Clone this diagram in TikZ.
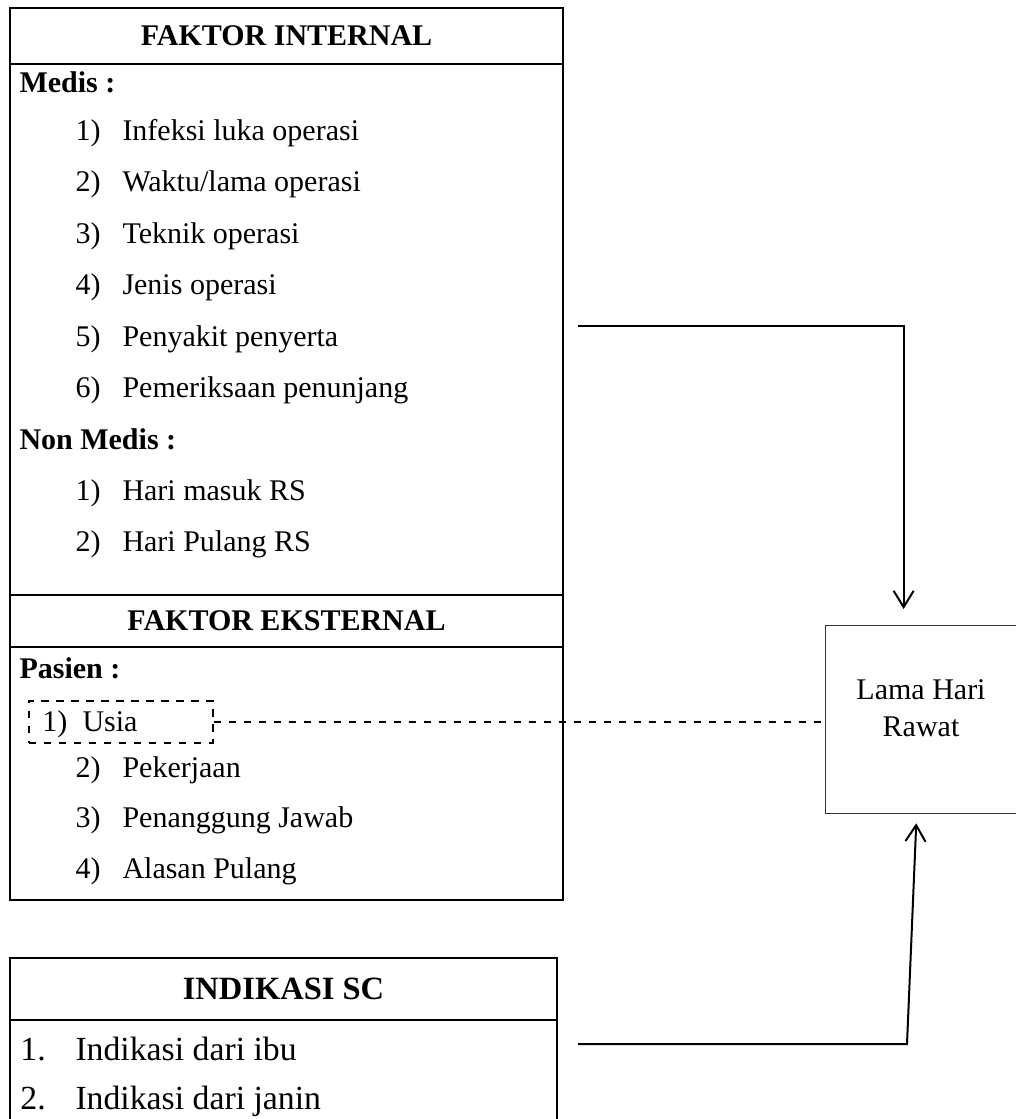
\documentclass[tikz,border=0pt]{standalone}
\usepackage{fontspec}
\setmainfont{Liberation Serif}
\usetikzlibrary{positioning,arrows.meta}

\begin{document}
\begin{tikzpicture}[
			x=0.4pt,y=-0.4pt,
			box/.style={draw,line width=1pt,inner sep=0pt,outer sep=0pt,anchor=north west,minimum width=553*0.4pt},
			txt/.style={anchor=base west,inner sep=0pt,font=\fontsize{12}{14}\selectfont},
			conn/.style={line width=0.8pt,-{Straight Barb[length=6.5pt,width=8pt]}},
			]
			\useasboundingbox (0,0) rectangle (1015,1119);
			% faktor internal / eksternal
			\node [box,minimum height=56*0.4pt,font=\fontsize{12}{14}\selectfont\bfseries] (inthead) at (10,8) {FAKTOR INTERNAL};
			\node [box,minimum height=531*0.4pt,below=0pt of inthead.south west,anchor=north west] (intbody) {};
			\node [box,minimum height=52*0.4pt,below=0pt of intbody.south west,anchor=north west,font=\fontsize{12}{14}\selectfont\bfseries] (exthead) {FAKTOR EKSTERNAL};
			\node [box,minimum height=253*0.4pt,below=0pt of exthead.south west,anchor=north west] (extbody) {};
			\node [txt,font=\fontsize{12}{14}\selectfont\bfseries] (medis) at (19,93) {Medis :};
			\foreach \t [count=\i] in {Infeksi luka operasi,{Waktu/lama operasi},Teknik operasi,Jenis operasi,Penyakit penyerta,Pemeriksaan penunjang}
			{
				\node [txt] (mnum\i) at (75,{140+(\i-1)*51.5}) {\i)};
				\node [txt] (med\i) at (122,{140+(\i-1)*51.5}) {\t};
			}
			\node [txt,font=\fontsize{12}{14}\selectfont\bfseries] (nonmedis) at (19,449) {Non Medis :};
			\foreach \t [count=\i] in {Hari masuk RS,Hari Pulang RS}
			{
				\node [txt] (nnum\i) at (75,{500+(\i-1)*51.5}) {\i)};
				\node [txt] (nonmed\i) at (122,{500+(\i-1)*51.5}) {\t};
			}
			\node [txt,font=\fontsize{12}{14}\selectfont\bfseries] (pasien) at (19,678) {Pasien :};
			\node [draw,dashed,line width=0.6pt,anchor=north west,inner sep=0pt,minimum width=184*0.4pt,minimum height=42*0.4pt] (usiabox) at (28,700) {};
			\node [txt] (pnum1) at (42,731) {1)};
			\node [txt] (pas1) at (82,731) {Usia};
			\foreach \t [count=\i from 2] in {Pekerjaan,Penanggung Jawab,Alasan Pulang}
			{
				\node [txt] (pnum\i) at (75,{777+(\i-2)*50.5}) {\i)};
				\node [txt] (pas\i) at (122,{777+(\i-2)*50.5}) {\t};
			}
			% indikasi sc
			\node [box,minimum width=547*0.4pt,minimum height=62*0.4pt,font=\fontsize{13}{15}\selectfont\bfseries] (schead) at (10,958) {INDIKASI SC};
			\node [box,minimum width=547*0.4pt,minimum height=130*0.4pt,below=0pt of schead.south west,anchor=north west] (scbody) {};
			\node [txt,font=\fontsize{13.5}{15}\selectfont] (snum1) at (20,1060) {1.};
			\node [txt,font=\fontsize{13.5}{15}\selectfont] (sc1) at (75,1060) {Indikasi dari ibu};
			\node [txt,font=\fontsize{13.5}{15}\selectfont] (snum2) at (20,1109) {2.};
			\node [txt,font=\fontsize{13.5}{15}\selectfont] (sc2) at (75,1109) {Indikasi dari janin};
			% lama hari rawat
			\node [draw,line width=0.5pt,draw=black!80,anchor=north west,minimum width=210*0.4pt,minimum height=188*0.4pt] (lama) at (825,625) {};
			\node [align=center,font=\fontsize{12}{15}\selectfont] (lamatxt) at (921,708) {Lama Hari\\Rawat};
			% connectors
			\coordinate (intout) at (578,326);
			\coordinate (scout) at (578,1044);
			\coordinate (sccorner) at (907,1044);
			\draw [conn,shorten >=6.4pt] (intout) -| ([xshift=-10.8pt]lama.north);
			\draw [conn,shorten >=3.6pt] (scout) -- (sccorner) -- ([xshift=-5.6pt]lama.south);
			\draw [dashed,line width=0.6pt] (usiabox.east) -- (usiabox.east -| lama.west);
		\end{tikzpicture}
\end{document}
